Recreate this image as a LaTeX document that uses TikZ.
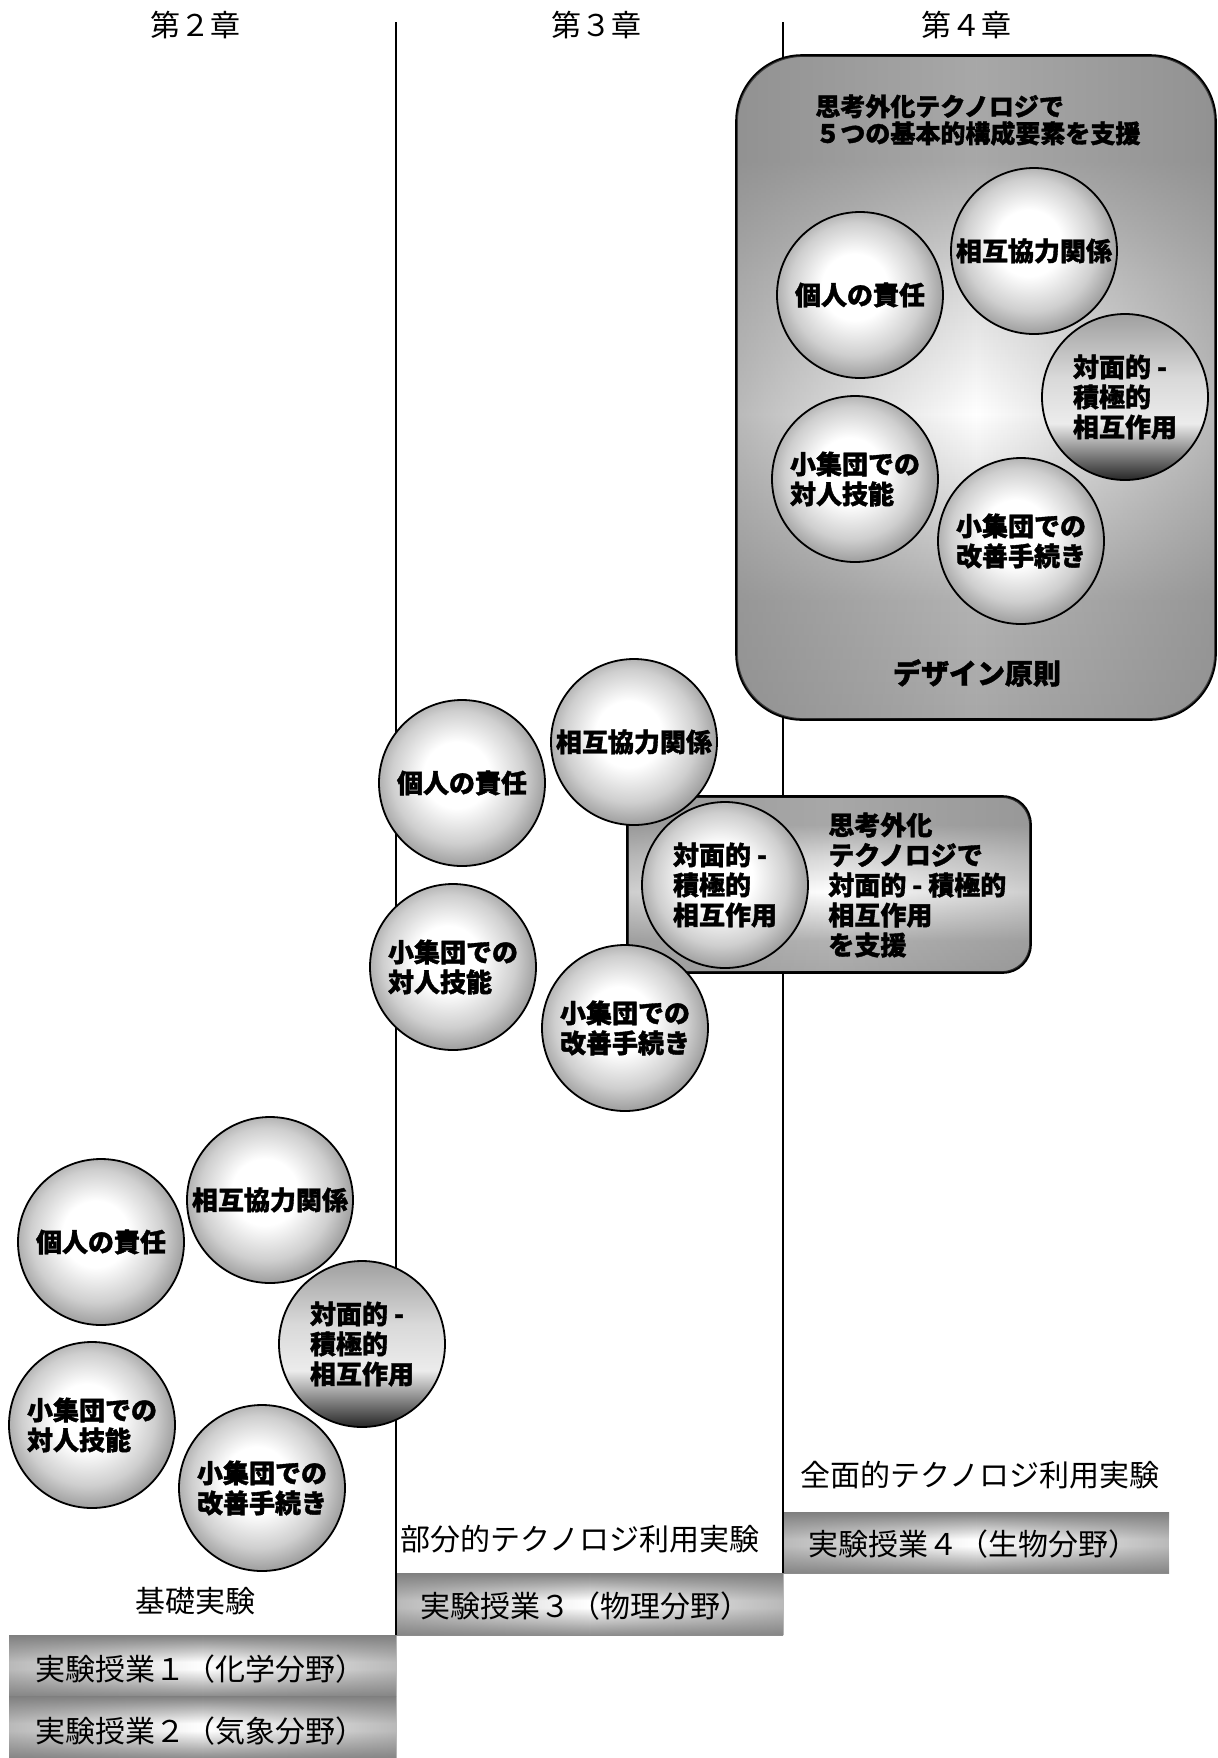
\documentclass[tikz,border=0pt]{standalone}
\usepackage{fontspec}
\setmainfont{Noto Sans CJK JP}[BoldFeatures={FakeBold=1.4}]
\usetikzlibrary{shapes.geometric,fadings}
\pgfdeclareradialshading{ballshade}{\pgfpoint{-2bp}{3bp}}{color(0bp)=(white); color(10bp)=(white); color(20bp)=(gray!38); color(27bp)=(gray!80); color(50bp)=(gray!80)}
\pgfdeclareverticalshading{faceshade}{100bp}{color(0bp)=(gray!30!black); color(25bp)=(gray!30!black); color(42bp)=(gray!15); color(56bp)=(gray!30); color(75bp)=(gray!75); color(100bp)=(gray!75)}
\pgfdeclareverticalshading{bandshade}{100bp}{color(0bp)=(gray!90); color(25bp)=(gray!90); color(47bp)=(white); color(53bp)=(white); color(75bp)=(gray); color(100bp)=(gray)}
\pgfdeclareverticalshading{boxshade}{100bp}{color(0bp)=(gray!68); color(25bp)=(gray!68); color(34bp)=(gray!60); color(48bp)=(white); color(58bp)=(gray!30); color(67bp)=(gray!68); color(100bp)=(gray!68)}
\tikzfading[name=sidefade, left color=transparent!45, right color=transparent!45, middle color=transparent!100]
\tikzset{
  divider/.style={line width=0.75pt},
  ball/.style={circle, draw=black, line width=0.9pt, shading=ballshade, inner sep=0pt,
    minimum size=83pt, align=left, font=\fontsize{13}{15}\selectfont\bfseries},
  faceball/.style={ball, shading=faceshade},
  band/.style={shading=bandshade, inner sep=0pt, font=\fontsize{15}{18}\selectfont},
  lbl/.style={inner sep=0pt, font=\fontsize{15}{18}\selectfont},
  bigbox/.style={draw=black, line width=0.9pt, rounded corners=33pt, shading=boxshade, inner sep=0pt},
  midbox/.style={draw=black, line width=0.9pt, rounded corners=14pt, shading=boxshade, inner sep=0pt},
  boxtext/.style={inner sep=0pt, align=left, font=\fontsize{13}{15}\selectfont\bfseries},
  sidedark/.style={fill=gray, path fading=sidefade}
}
\begin{document}
\begin{tikzpicture}[x=0.5pt,y=-0.5pt]
\useasboundingbox (0,0) rectangle (1218,1758);

% bands
\node[band, minimum width=193.5pt, minimum height=30.5pt] (b1) at (202.5,1665.5) {};
\node[band, minimum width=193.5pt, minimum height=31pt] (b2) at (202.5,1727) {};
\node[band, minimum width=193.5pt, minimum height=31pt] (b3) at (589.5,1604) {};
\node[band, minimum width=193pt, minimum height=30.5pt] (b4) at (976,1542.5) {};
\fill[sidedark] (b1.north west) rectangle (b1.south east);
\fill[sidedark] (b2.north west) rectangle (b2.south east);
\fill[sidedark] (b3.north west) rectangle (b3.south east);
\fill[sidedark] (b4.north west) rectangle (b4.south east);
\node[lbl] (b1t) at (200,1669) {実験授業１（化学分野）};
\node[lbl] (b2t) at (200,1731) {実験授業２（気象分野）};
\node[lbl] (b3t) at (585,1606) {実験授業３（物理分野）};
\node[lbl] (b4t) at (973,1544) {実験授業４（生物分野）};

% dividers
\coordinate (d2top) at (396,22);
\coordinate (d2bot) at (396,1635);
\coordinate (d3top) at (783,22);
\coordinate (d3bot) at (783,1573);
\draw[divider] (d2top) -- (d2bot);
\draw[divider] (d3top) -- (d3bot);

% headers
\node[lbl] (h2) at (195,25) {第２章};
\node[lbl] (h3) at (596,25) {第３章};
\node[lbl] (h4) at (966,25) {第４章};

% labels
\node[lbl] (l2) at (195,1601) {基礎実験};
\node[lbl] (l3) at (580,1539) {部分的テクノロジ利用実験};
\node[lbl] (l4) at (980,1475) {全面的テクノロジ利用実験};

% chapter 4 big box
\node[bigbox, minimum width=239pt, minimum height=331.5pt] (big) at (976,387.5) {};
\fill[sidedark, rounded corners=33pt] (big.north west) rectangle (big.south east);
\draw[line width=0.9pt, rounded corners=33pt] (big.north west) rectangle (big.south east);
\node[boxtext, anchor=west, font=\fontsize{12.5}{13.5}\selectfont\bfseries] (bigtitle) at (815,120) {思考外化テクノロジで\\５つの基本的構成要素を支援};
\node[boxtext, font=\fontsize{14}{16}\selectfont\bfseries] (design) at (977,673) {デザイン原則};
\node[ball] (c4a) at (860,295) {個人の責任};
\node[ball] (c4b) at (1034,251) {相互協力関係};
\node[faceball] (c4c) at (1125,397) {対面的 -\\積極的\\相互作用};
\node[ball] (c4d) at (855,479) {小集団での\\対人技能};
\node[ball] (c4e) at (1021,541) {小集団での\\改善手続き};

% chapter 3
\node[midbox, minimum width=201pt, minimum height=87.5pt] (mid) at (829,884.5) {};
\fill[sidedark, rounded corners=14pt, fill opacity=0.7] (mid.north west) rectangle (mid.south east);
\draw[line width=0.9pt, rounded corners=14pt] (mid.north west) rectangle (mid.south east);
\node[boxtext, anchor=west] (midtext) at (828,885) {思考外化\\テクノロジで\\対面的 - 積極的\\相互作用\\を支援};
\node[ball] (c3a) at (462,783) {個人の責任};
\node[ball] (c3b) at (634,742) {相互協力関係};
\node[ball] (c3c) at (725,885) {対面的 -\\積極的\\相互作用};
\node[ball] (c3d) at (453,967) {小集団での\\対人技能};
\node[ball] (c3e) at (625,1028) {小集団での\\改善手続き};

% chapter 2
\node[ball] (c2a) at (101,1242) {個人の責任};
\node[ball] (c2b) at (270,1200) {相互協力関係};
\node[faceball] (c2c) at (362,1344) {対面的 -\\積極的\\相互作用};
\node[ball] (c2d) at (92,1425) {小集団での\\対人技能};
\node[ball] (c2e) at (262,1488) {小集団での\\改善手続き};
\end{tikzpicture}
\end{document}
